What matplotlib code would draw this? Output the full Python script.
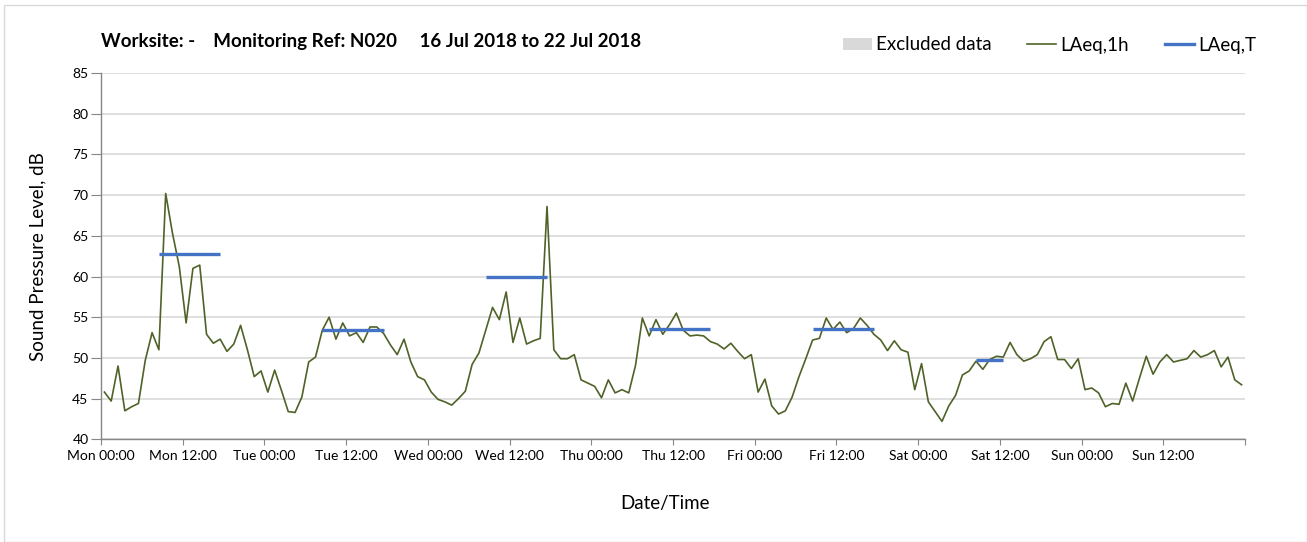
import matplotlib
matplotlib.use("Agg")
import matplotlib.pyplot as plt
from matplotlib.lines import Line2D
from matplotlib.patches import Patch, Rectangle
import numpy as np

# ---------------- data ----------------
# hourly LAeq,1h values, Mon 00:00 .. Sun 23:00 (plotted at mid-hour)
laeq_1h = [
    45.8, 44.7, 49.0, 43.5, 44.0, 44.4, 49.7, 53.1, 51.0, 70.2, 65.3, 61.2,
    54.3, 61.0, 61.4, 52.9, 51.8, 52.3, 50.8, 51.7, 54.0, 51.0, 47.7, 48.4,
    45.8, 48.5, 46.0, 43.4, 43.3, 45.2, 49.5, 50.1, 53.4, 55.0, 52.3, 54.3,
    52.7, 53.1, 51.9, 53.8, 53.8, 53.0, 51.6, 50.4, 52.3, 49.5, 47.7, 47.3,
    45.8, 44.9, 44.6, 44.2, 45.0, 45.9, 49.2, 50.6, 53.4, 56.2, 54.7, 58.1,
    51.9, 54.9, 51.7, 52.1, 52.4, 68.6, 51.0, 49.9, 49.9, 50.4, 47.3, 46.9,
    46.5, 45.1, 47.3, 45.7, 46.1, 45.7, 49.1, 54.9, 52.7, 54.7, 52.9, 54.1,
    55.5, 53.4, 52.7, 52.8, 52.7, 52.0, 51.7, 51.1, 51.8, 50.8, 49.9, 50.4,
    45.8, 47.4, 44.1, 43.1, 43.5, 45.2, 47.7, 49.9, 52.2, 52.4, 54.9, 53.5,
    54.4, 53.1, 53.6, 54.9, 54.0, 52.9, 52.2, 50.9, 52.1, 51.0, 50.7, 46.1,
    49.3, 44.6, 43.4, 42.2, 44.1, 45.4, 47.9, 48.4, 49.6, 48.6, 49.8, 50.2,
    50.1, 51.9, 50.4, 49.6, 49.9, 50.4, 52.0, 52.6, 49.8, 49.8, 48.7, 49.9,
    46.1, 46.3, 45.7, 44.0, 44.4, 44.3, 46.9, 44.7, 47.5, 50.2, 48.0, 49.5,
    50.4, 49.5, 49.7, 49.9, 50.9, 50.1, 50.4, 50.9, 48.9, 50.1, 47.3, 46.7,
]
hours = np.arange(len(laeq_1h)) + 0.5

# LAeq,T period values: (start hour, end hour, level)
laeqT_start = [8.5, 32.5, 56.5, 80.5, 104.5, 128.5]
laeqT_end = [17.5, 41.5, 65.5, 89.5, 113.5, 132.5]
laeqT_level = [62.8, 53.4, 59.9, 53.5, 53.6, 49.7]

days = ["Mon", "Tue", "Wed", "Thu", "Fri", "Sat", "Sun"]
tick_labels = [f"{d} {t}" for d in days for t in ("00:00", "12:00")]

title = "Worksite: -    Monitoring Ref: N020     16 Jul 2018 to 22 Jul 2018"

# ---------------- style ----------------
plt.rcParams["font.family"] = ["Lato", "DejaVu Sans"]
green = "#4F6228"
blue = "#4472C4"
grid_c = "#D9D9D9"
axis_c = "#868686"

W, H = 1307, 542
fig = plt.figure(figsize=(W / 100, H / 100), dpi=100)
x0, x1, ytop, ybot = 101.0, 1245.0, 73.0, 439.3
ax = fig.add_axes([x0 / W, 1 - ybot / H, (x1 - x0) / W, (ybot - ytop) / H])

ax.plot(hours, laeq_1h, color=green, lw=1.2, zorder=3)
for s, e, v in zip(laeqT_start, laeqT_end, laeqT_level):
    ax.plot([s, e], [v, v], color=blue, lw=2.4, solid_capstyle="butt", zorder=4)

ax.set_xlim(0, 168)
ax.set_ylim(40, 85)
ax.set_xticks(np.arange(0, 169, 12))
ax.set_xticklabels(tick_labels + [""])
ax.set_xticks(np.arange(0, 169, 24), minor=True)
ax.set_yticks(np.arange(40, 86, 5))
ax.tick_params(axis="x", which="major", length=4, color=axis_c, labelsize=10, pad=4)
ax.tick_params(axis="x", which="minor", length=0)
ax.tick_params(axis="y", length=7, color=axis_c, labelsize=10, pad=2)
ax.grid(False)
ax.xaxis.grid(True, which="minor", color=grid_c, lw=1.2)
ax.yaxis.grid(True, which="major", color=grid_c, lw=1.2)
ax.set_axisbelow(True)
for sp in ("top", "right"):
    ax.spines[sp].set_visible(False)
for sp in ("left", "bottom"):
    ax.spines[sp].set_color(axis_c)
    ax.spines[sp].set_linewidth(1.0)

ax.set_ylabel("Sound Pressure Level, dB", fontsize=13.5, va="center")
ax.yaxis.set_label_coords((38.3 - x0) / (x1 - x0), 0.5)
ax.set_xlabel("Date/Time", fontsize=13.5, va="center")
ax.xaxis.set_label_coords((664.5 - x0) / (x1 - x0), (ybot - 503) / (ybot - ytop))

fig.text(101 / W, 1 - 41 / H, title, fontsize=13.5, fontweight="bold", va="center", ha="left")

handles = [
    Patch(facecolor="#D9D9D9", edgecolor="none"),
    Line2D([], [], color=green, lw=1.2),
    Line2D([], [], color=blue, lw=2.4),
]
fig.legend(handles, ["Excluded data", "LAeq,1h", "LAeq,T"], ncol=3, frameon=False,
           loc="center right", bbox_to_anchor=(1256 / W, 1 - 45 / H), fontsize=13.5,
           handlelength=1.55, handleheight=0.55, handletextpad=0.22, columnspacing=1.9,
           borderpad=0, borderaxespad=0)

fig.patches.append(Rectangle((4 / W, 0), 1 - 4 / W, 1 - 5 / H, transform=fig.transFigure,
                             fill=False, edgecolor="#D9D9D9", lw=1.0))

fig.savefig("out.png", dpi=100, facecolor="white")
